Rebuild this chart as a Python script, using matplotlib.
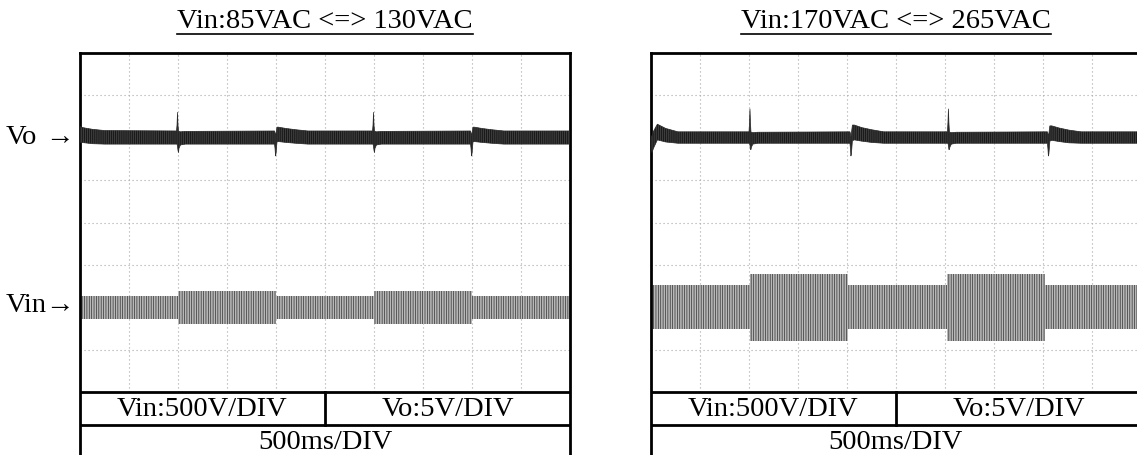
import matplotlib.pyplot as plt
from matplotlib.lines import Line2D

# -----------------------------
# Data (divisions on the scope screen)
# -----------------------------
TITLES = ["Vin:85VAC <=> 130VAC", "Vin:170VAC <=> 265VAC"]
SCALE_LABELS = ["Vin:500V/DIV", "Vo:5V/DIV"]
TIME_LABEL = "500ms/DIV"
TRACE_NAMES = ["Vo", "Vin"]
ARROW = "\u2192"

# Vin envelope: segment edges (time div) and half amplitude (div), centred on VIN_CENTER
VIN_CENTER = 2.0
VIN_EDGES_L = [0.0, 2.0, 4.0, 6.0, 8.0, 10.0]
VIN_AMP_L = [0.27, 0.39, 0.27, 0.39, 0.27]
VIN_EDGES_R = [0.0, 2.03, 4.03, 6.05, 8.05, 10.0]
VIN_AMP_R = [0.52, 0.79, 0.52, 0.79, 0.52]

# Vo ripple band: time, upper and lower envelope (div)
VO_T_L = [0.00, 0.02, 0.10, 0.25, 0.50,
          1.97, 1.98, 1.99, 2.00, 2.01, 2.02, 2.05, 2.15,
          3.97, 3.98, 3.99, 4.00, 4.02, 4.05, 4.20, 4.40, 4.65,
          5.97, 5.98, 5.99, 6.00, 6.01, 6.02, 6.05, 6.15,
          7.97, 7.98, 7.99, 8.00, 8.02, 8.05, 8.20, 8.40, 8.65,
          10.00]
VO_HI_L = [6.26, 6.25, 6.23, 6.20, 6.17,
           6.16, 6.30, 6.60, 6.30, 6.16, 6.15, 6.14, 6.15,
           6.16, 6.12, 6.05, 6.10, 6.25, 6.25, 6.22, 6.19, 6.16,
           6.16, 6.30, 6.60, 6.30, 6.16, 6.15, 6.14, 6.15,
           6.16, 6.12, 6.05, 6.10, 6.25, 6.25, 6.22, 6.19, 6.16,
           6.16]
VO_LO_L = [5.90, 5.89, 5.88, 5.86, 5.85,
           5.85, 5.85, 5.80, 5.70, 5.65, 5.75, 5.83, 5.85,
           5.85, 5.75, 5.57, 5.62, 5.90, 5.91, 5.89, 5.87, 5.85,
           5.85, 5.85, 5.80, 5.70, 5.65, 5.75, 5.83, 5.85,
           5.85, 5.75, 5.57, 5.62, 5.90, 5.91, 5.89, 5.87, 5.85,
           5.85]

VO_T_R = [0.00, 0.02, 0.05, 0.13, 0.30, 0.55,
          2.00, 2.01, 2.02, 2.03, 2.04, 2.05, 2.08, 2.18,
          4.06, 4.07, 4.08, 4.09, 4.11, 4.15, 4.30, 4.50, 4.75,
          6.05, 6.06, 6.07, 6.08, 6.09, 6.10, 6.13, 6.23,
          8.09, 8.10, 8.11, 8.12, 8.14, 8.18, 8.33, 8.53, 8.78,
          10.00]
VO_HI_R = [6.05, 6.02, 6.15, 6.32, 6.22, 6.14,
           6.14, 6.35, 6.68, 6.35, 6.14, 6.13, 6.12, 6.13,
           6.14, 6.10, 6.02, 6.10, 6.30, 6.30, 6.24, 6.19, 6.14,
           6.14, 6.35, 6.68, 6.35, 6.14, 6.13, 6.12, 6.13,
           6.14, 6.10, 6.02, 6.10, 6.28, 6.28, 6.23, 6.18, 6.14,
           6.14]
VO_LO_R = [5.80, 5.65, 5.75, 5.95, 5.90, 5.87,
           5.87, 5.87, 5.82, 5.72, 5.72, 5.78, 5.85, 5.87,
           5.87, 5.75, 5.57, 5.62, 5.93, 5.95, 5.92, 5.89, 5.87,
           5.87, 5.87, 5.82, 5.72, 5.72, 5.78, 5.85, 5.87,
           5.87, 5.75, 5.57, 5.62, 5.92, 5.94, 5.91, 5.88, 5.87,
           5.87]

# -----------------------------
# Layout (pixels)
# -----------------------------
W, H, DPI = 1137, 456, 100
BOX_X = [80, 651]
BOX_W = 490
BOX_TOP = 54
DIV_PX = 42.375
ROW_H = 0.78  # table row height in div
Y_MIN = -2 * ROW_H
FONT = ["Liberation Serif", "DejaVu Serif"]
FS = 20.5
FRAME_LW = 2.0
LABEL_Y = [138, 306]

plt.rcParams["hatch.linewidth"] = 0.5

fig = plt.figure(figsize=(W / DPI, H / DPI), dpi=DPI)


def px_axes(x0, w):
    height = (8 - Y_MIN) * DIV_PX
    bottom = H - BOX_TOP - height
    return fig.add_axes([x0 / W, bottom / H, w / W, height / H])


def draw_panel(ax, title, vin_edges, vin_amp, vo_t, vo_hi, vo_lo, x0):
    ax.set_xlim(0, 10)
    ax.set_ylim(Y_MIN, 8)
    ax.set_xticks([])
    ax.set_yticks([])
    for s in ax.spines.values():
        s.set_linewidth(FRAME_LW)
        s.set_color("black")

    # dotted graticule
    for gx in range(1, 10):
        ax.plot([gx, gx], [0, 8], color="#a8a8a8", lw=0.8,
                ls=(0, (1, 2.6)), zorder=1)
    for gy in range(1, 8):
        ax.plot([0, 10], [gy, gy], color="#a8a8a8", lw=0.8,
                ls=(0, (1, 2.6)), zorder=1)

    # Vin envelope (dense AC trace)
    amp = list(vin_amp) + [vin_amp[-1]]
    hi = [VIN_CENTER + a for a in amp]
    lo = [VIN_CENTER - a for a in amp]
    ax.fill_between(vin_edges, lo, hi, step="post", facecolor="#b8b8b8",
                    edgecolor="#303030", hatch="|||||||", linewidth=0, zorder=2)

    # Vo ripple band
    ax.fill_between(vo_t, vo_lo, vo_hi, facecolor="#3c3c3c",
                    edgecolor="#0c0c0c", hatch="||||||||", linewidth=0, zorder=3)
    ax.plot(vo_t, vo_hi, color="#2a2a2a", lw=0.5, zorder=3)
    ax.plot(vo_t, vo_lo, color="#2a2a2a", lw=0.5, zorder=3)

    # scale table
    ax.axhline(0, color="black", lw=FRAME_LW, zorder=4)
    ax.axhline(-ROW_H, color="black", lw=FRAME_LW, zorder=4)
    ax.plot([5, 5], [-ROW_H, 0], color="black", lw=FRAME_LW, zorder=4)
    ax.text(2.5, -ROW_H / 2, SCALE_LABELS[0], ha="center", va="center",
            fontsize=FS, family=FONT)
    ax.text(7.5, -ROW_H / 2, SCALE_LABELS[1], ha="center", va="center",
            fontsize=FS, family=FONT)
    ax.text(5, -1.5 * ROW_H, TIME_LABEL, ha="center", va="center",
            fontsize=FS, family=FONT)

    # underlined title
    cx = x0 + BOX_W / 2
    t = fig.text(cx / W, 1 - 22 / H, title, ha="center", va="center",
                 fontsize=FS, family=FONT)
    fig.canvas.draw()
    bb = t.get_window_extent()
    uy = (H - 35) / DPI
    fig.add_artist(Line2D([bb.x0 / DPI, bb.x1 / DPI], [uy, uy], color="black",
                          lw=1.2, transform=fig.dpi_scale_trans))


ax_l = px_axes(BOX_X[0], BOX_W)
draw_panel(ax_l, TITLES[0], VIN_EDGES_L, VIN_AMP_L, VO_T_L, VO_HI_L, VO_LO_L, BOX_X[0])
ax_r = px_axes(BOX_X[1], BOX_W)
draw_panel(ax_r, TITLES[1], VIN_EDGES_R, VIN_AMP_R, VO_T_R, VO_HI_R, VO_LO_R, BOX_X[1])

# trace markers left of the first screen
for name, ly in zip(TRACE_NAMES, LABEL_Y):
    fig.text(6 / W, 1 - ly / H, name, ha="left", va="center",
             fontsize=FS, family=FONT)
    fig.text(74 / W, 1 - ly / H, ARROW, ha="right", va="center",
             fontsize=FS, family=FONT)

fig.savefig("out.png", dpi=DPI)
